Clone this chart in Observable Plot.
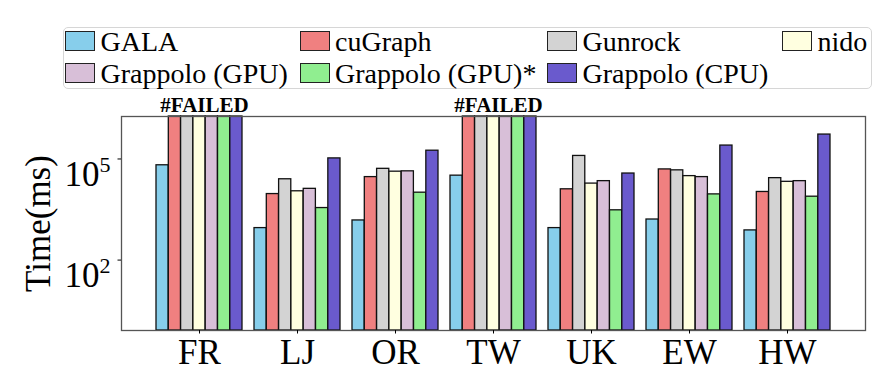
<!DOCTYPE html>
<html><head><meta charset="utf-8">
<script src="https://cdn.jsdelivr.net/npm/d3@7"></script>
<script src="https://cdn.jsdelivr.net/npm/@observablehq/plot@0.6"></script>
<style>
body{margin:0;background:#fff;font-family:"Liberation Serif","Times New Roman",serif;}
#wrap{width:890px;height:380px;position:relative;overflow:hidden}
#legend{position:relative;width:890px;height:90px}
.box{position:absolute;left:63px;top:26.5px;width:809px;height:62px;border:1.2px solid #d6d6d6;border-radius:5px;box-sizing:border-box}
.sw{position:absolute;width:30px;height:20px;border:1.4px solid #222;box-sizing:border-box}
.lb{position:absolute;font-family:"Liberation Serif","Times New Roman",serif;font-size:28px;line-height:28px;color:#000;white-space:nowrap}
</style></head><body>
<div id="wrap"><div id="legend"></div><div id="chart"></div></div>
<script>
const datasets = ["FR","LJ","OR","TW","UK","EW","HW"];
const methods = ["GALA","cuGraph","Gunrock","nido","Grappolo (GPU)","Grappolo (GPU)*","Grappolo (CPU)"];
const colors = ["#87CEEB","#F08080","#D3D3D3","#FFFFE0","#D8BFD8","#90EE90","#6A5ACD"];
// time in ms; null = run failed (bar drawn to the top of the axis)
const gala            = [65000, 890, 1500, 32000, 890, 1600, 760];
const cugraph         = [null, 9100, 29000, null, 12600, 49000, 10500];
const gunrock         = [null, 25000, 51000, null, 123000, 46000, 27000];
const nido            = [null, 11000, 42000, null, 18600, 31000, 21000];
const grappoloGPU     = [null, 13000, 43000, null, 22000, 29000, 22000];
const grappoloGPUstar = [null, 3500, 10000, null, 3000, 8900, 7600];
const grappoloCPU     = [null, 104000, 176000, null, 37000, 250000, 530000];
const yTicks = [1e2, 1e5];
const failedLabel = "#FAILED";
const yLabel = "Time(ms)";

const series = [gala, cugraph, gunrock, nido, grappoloGPU, grappoloGPUstar, grappoloCPU];
const yMin = 0.815, yMax = 1.82e6;

// legend
const lg = document.getElementById("legend");
const box = document.createElement("div"); box.className = "box"; lg.appendChild(box);
const colLeft = [65, 299.5, 547, 782], rowTop = [30.5, 62.7];
methods.forEach((m, i) => {
  const r = Math.floor(i / 4), c = i % 4;
  const sw = document.createElement("div"); sw.className = "sw";
  sw.style.left = colLeft[c] + "px"; sw.style.top = rowTop[r] + "px"; sw.style.background = colors[i];
  const lb = document.createElement("div"); lb.className = "lb";
  lb.style.left = (colLeft[c] + 35.5) + "px"; lb.style.top = (rowTop[r] - 3) + "px"; lb.textContent = m;
  lg.appendChild(sw); lg.appendChild(lb);
});

const W = 890, H = 290, mL = 121, mR = 25, pI = 0.122, pO = 0.353;
const step = (W - mL - mR) / (datasets.length - pI + 2 * pO);
const bw = step * (1 - pI) / methods.length;

const rows = methods.map((m, i) => datasets.map((d, j) => ({dataset: d, method: m, value: series[i][j]})));
const failed = datasets.filter((d, j) => series.slice(1).every(s => s[j] == null));

const marks = methods.map((m, i) => Plot.barY(rows[i], {
  x: "dataset", y1: yMin, y2: d => d.value ?? yMax,
  fill: colors[i], stroke: "#111", strokeWidth: 1.3,
  insetLeft: i * bw, insetRight: (methods.length - 1 - i) * bw
}));

const chart = Plot.plot({
  width: W, height: H,
  marginTop: 26, marginBottom: 50, marginLeft: mL, marginRight: mR,
  style: {fontFamily: "'Liberation Serif', 'Times New Roman', serif", color: "#000", background: "transparent"},
  x: {domain: datasets, paddingInner: pI, paddingOuter: pO, align: 0.5},
  y: {type: "log", domain: [yMin, yMax]},
  marks: [
    ...marks,
    Plot.frame({stroke: "#555", strokeWidth: 1.3}),
    Plot.text(failed, {x: d => d, frameAnchor: "top", text: () => failedLabel, dx: 5, dy: -5,
      lineAnchor: "bottom", fontSize: 21, fontWeight: "bold"}),
    Plot.axisX({tickSize: 3.5, tickPadding: 5.5, fontSize: 35, label: null}),
    Plot.axisY({ticks: yTicks, tickFormat: d => "10^" + Math.round(Math.log10(d)),
      tickSize: 3.5, tickPadding: 7.5, fontSize: 35,
      label: yLabel, labelAnchor: "center", labelOffset: 96, labelArrow: "none"})
  ]
});
document.getElementById("chart").appendChild(chart);

// superscript exponents on y tick labels
chart.querySelectorAll('g[aria-label="y-axis tick label"] text').forEach(t => {
  const s = t.textContent; const k = s.indexOf("^");
  if (k < 0) return;
  t.textContent = "";
  t.setAttribute("dy", "15.7");
  const ns = "http://www.w3.org/2000/svg";
  const a = document.createElementNS(ns, "tspan"); a.textContent = s.slice(0, k);
  const b = document.createElementNS(ns, "tspan"); b.textContent = s.slice(k + 1);
  b.setAttribute("font-size", "22"); b.setAttribute("dy", "-14");
  t.appendChild(a); t.appendChild(b);
});
</script></body></html>
